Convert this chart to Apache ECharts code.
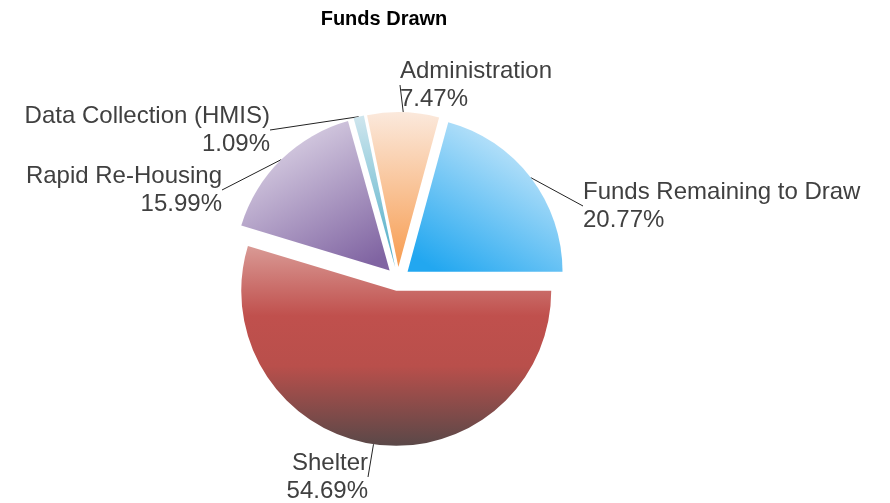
<!DOCTYPE html>
<html>
<head>
<meta charset="utf-8">
<script src="https://cdn.jsdelivr.net/npm/echarts@6/dist/echarts.min.js"></script>
<style>
  html, body { margin: 0; padding: 0; background: #fff; }
  #chart { width: 890px; height: 503px; }
</style>
</head>
<body>
<div id="chart"></div>
<script>
// data, clockwise from 3 o'clock
var categories = ['Shelter', 'Rapid Re-Housing', 'Data Collection (HMIS)', 'Administration', 'Funds Remaining to Draw']
var shares = [54.69, 15.99, 1.09, 7.47, 20.77]

// gradient stops per slice (light -> dark)
var sliceColors = [
  { x: 0, y: 0, x2: 0, y2: 1, stops: ['#d99a95', '#c0504d', '#b94f4b', '#5a4848'], at: [0, 0.35, 0.6, 1] },
  { x: 0.2, y: 0, x2: 0.8, y2: 1, stops: ['#e2dbea', '#8064a2'], at: [0, 1] },
  { x: 0, y: 0, x2: 0, y2: 1, stops: ['#cfe6ee', '#4bacc6'], at: [0, 1] },
  { x: 0, y: 0, x2: 0, y2: 1, stops: ['#fbe9dc', '#f79c50'], at: [0, 1] },
  { x: 0.8, y: 0, x2: 0.2, y2: 1, stops: ['#d6edfb', '#22a7f0'], at: [0, 1] }
]

// label spots (text anchor)
var labelSpots = [
  { x: 368, y: 477, align: 'right' },
  { x: 222, y: 190, align: 'right' },
  { x: 270, y: 130, align: 'right' },
  { x: 400, y: 85, align: 'left' },
  { x: 583, y: 206, align: 'left' }
]

var pieCenter = [398, 279]
var pieRadius = 155
var explode = 12

function makeGradient(c) {
  return {
    type: 'linear', x: c.x, y: c.y, x2: c.x2, y2: c.y2,
    colorStops: c.stops.map(function (s, i) { return { offset: c.at[i], color: s } })
  }
}

// one pie per slice so every slice can be pushed out along its own mid angle
var total = shares.reduce(function (a, b) { return a + b }, 0)
var series = []
var acc = 0
shares.forEach(function (v, k) {
  var mid = (acc + v / 2) / total * Math.PI * 2
  acc += v
  series.push({
    type: 'pie',
    center: [pieCenter[0] + explode * Math.cos(mid), pieCenter[1] + explode * Math.sin(mid)],
    radius: pieRadius,
    startAngle: 0,
    clockwise: true,
    avoidLabelOverlap: false,
    emphasis: { disabled: true },
    label: {
      position: 'outside',
      alignTo: 'none',
      formatter: function (p) { return p.name + '\n' + p.value.toFixed(2) + '%' },
      fontFamily: 'Liberation Sans',
      fontSize: 24,
      lineHeight: 28,
      color: '#404040'
    },
    labelLine: {
      length: 10,
      length2: 0,
      lineStyle: { color: '#222', width: 1 }
    },
    labelLayout: function (params) {
      var s = labelSpots[params.dataIndex]
      return { x: s.x, y: s.y, align: s.align, verticalAlign: 'middle' }
    },
    data: categories.map(function (name, i) {
      var on = i === k
      return {
        name: name,
        value: shares[i],
        label: { show: on },
        labelLine: { show: on },
        itemStyle: { color: on ? makeGradient(sliceColors[i]) : 'rgba(0,0,0,0)' }
      }
    })
  })
})

var myChart = echarts.init(document.getElementById('chart'))
var option = {
  animation: false,
  title: {
    text: 'Funds Drawn',
    left: 379,
    top: 4,
    textAlign: 'center',
    textStyle: {
      fontFamily: 'Liberation Sans',
      fontSize: 20,
      fontWeight: 'bold',
      color: '#000'
    }
  },
  series: series
}
myChart.setOption(option)
</script>
</body>
</html>
